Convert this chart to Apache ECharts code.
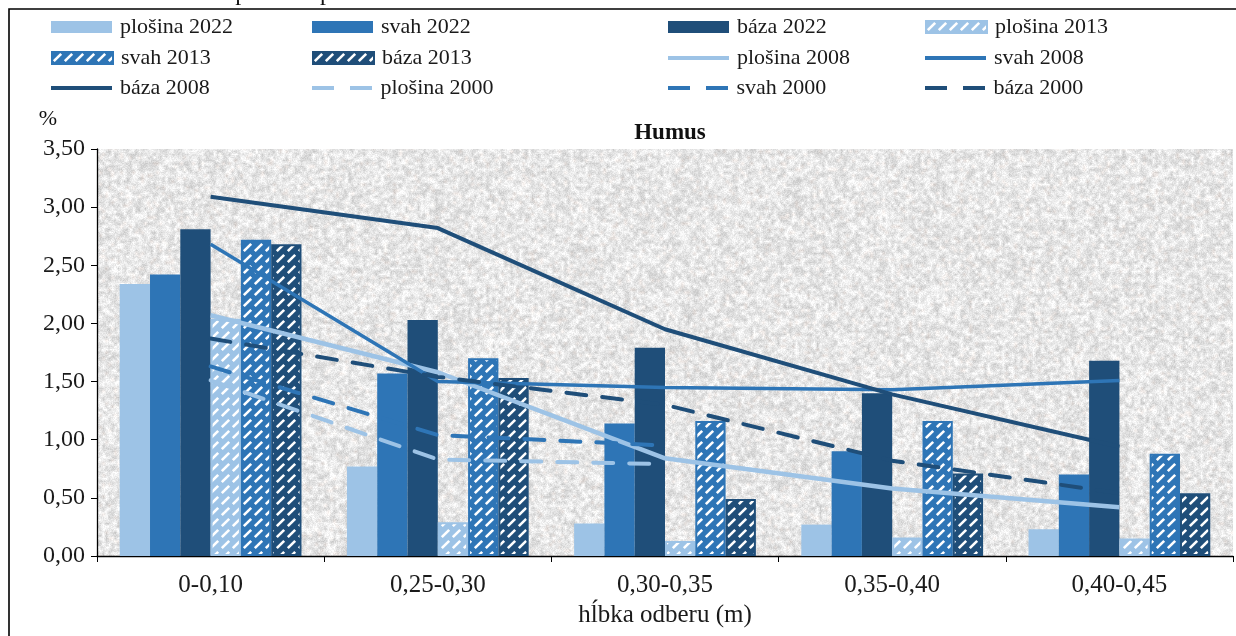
<!DOCTYPE html>
<html>
<head>
<meta charset="utf-8">
<script src="https://cdn.jsdelivr.net/npm/echarts@6/dist/echarts.min.js"></script>
<style>
  html, body { margin: 0; padding: 0; background: #fff; }
  #chart { width: 1236px; height: 636px; }
</style>
</head>
<body>
<div id="chart"></div>
<script>
// Humus content (%) by sampling depth — plateau (plošina), slope (svah), base (báza)
const categories = ['0-0,10', '0,25-0,30', '0,30-0,35', '0,35-0,40', '0,40-0,45'];
const yTicks = { min: 0, max: 3.5, interval: 0.5 };

const plosina2022 = [2.34, 0.77, 0.28, 0.27, 0.23];
const svah2022    = [2.42, 1.57, 1.14, 0.90, 0.70];
const baza2022    = [2.81, 2.03, 1.79, 1.40, 1.68];
const plosina2013 = [2.04, 0.29, 0.13, 0.16, 0.15];
const svah2013    = [2.72, 1.70, 1.16, 1.16, 0.88];
const baza2013    = [2.68, 1.53, 0.49, 0.71, 0.54];
const plosina2008 = [2.07, 1.58, 0.84, 0.58, 0.42];
const svah2008    = [2.68, 1.50, 1.45, 1.43, 1.51];
const baza2008    = [3.09, 2.82, 1.95, 1.39, 0.94];
const plosina2000 = [1.51, 0.83, 0.79, null, null];
const svah2000    = [1.63, 1.04, 0.95, null, null];
const baza2000    = [1.87, 1.54, 1.30, 0.82, 0.54];

const C_PLOSINA = '#9dc3e6';
const C_SVAH = '#2e75b6';
const C_BAZA = '#1f4e79';
const FONT = '"Liberation Serif", "Times New Roman", serif';

// deterministic pseudo-random generator for the granite texture
function lcg(seed) {
  let s = seed >>> 0;
  return function () {
    s = (s * 1664525 + 1013904223) >>> 0;
    return s / 4294967296;
  };
}

// Granite-like plot background
function makeGranite(w, h) {
  const rnd = lcg(12345);
  const small = document.createElement('canvas');
  const sw = Math.ceil(w / 3), sh = Math.ceil(h / 3);
  small.width = sw; small.height = sh;
  const sctx = small.getContext('2d');
  const img = sctx.createImageData(sw, sh);
  for (let i = 0; i < sw * sh; i++) {
    const v = 208 + rnd() * 46;
    const warm = rnd() < 0.08 ? 6 : 0;
    img.data[i * 4] = v + warm;
    img.data[i * 4 + 1] = v;
    img.data[i * 4 + 2] = v - warm * 0.5;
    img.data[i * 4 + 3] = 255;
  }
  sctx.putImageData(img, 0, 0);
  const c = document.createElement('canvas');
  c.width = w; c.height = h;
  const ctx = c.getContext('2d');
  ctx.imageSmoothingEnabled = true;
  ctx.drawImage(small, 0, 0, w, h);
  const fine = ctx.getImageData(0, 0, w, h);
  for (let i = 0; i < w * h; i++) {
    const d = (rnd() - 0.5) * 24;
    fine.data[i * 4] += d;
    fine.data[i * 4 + 1] += d;
    fine.data[i * 4 + 2] += d;
  }
  ctx.putImageData(fine, 0, 0);
  return c;
}

// Diagonal hatch fill for the 2013 bars
function makeHatch(color) {
  const n = 11;
  const c = document.createElement('canvas');
  c.width = n; c.height = n;
  const ctx = c.getContext('2d');
  ctx.fillStyle = color;
  ctx.fillRect(0, 0, n, n);
  ctx.strokeStyle = '#ffffff';
  ctx.lineWidth = 2.6;
  ctx.lineCap = 'butt';
  ctx.beginPath();
  ctx.moveTo(1.8, n - 1.8);
  ctx.lineTo(n - 1.8, 1.8);
  ctx.stroke();
  return c;
}

const chart = echarts.init(document.getElementById('chart'), null, { renderer: 'canvas' });

function barSeries(name, data, color) {
  return {
    name, type: 'bar', data,
    barGap: 0, barCategoryGap: '20%',
    itemStyle: { color },
    z: 2
  };
}
function hatchSeries(name, data, color) {
  return {
    name, type: 'bar', data,
    barGap: 0, barCategoryGap: '20%',
    itemStyle: { color: { image: makeHatch(color), repeat: 'repeat' }, borderColor: color, borderWidth: 2 },
    z: 2
  };
}
function lineSeries(name, data, color, dashed, width) {
  return {
    name, type: 'line', data,
    symbol: 'none', connectNulls: false,
    lineStyle: dashed
      ? { color, width: 4, type: [20, 16], cap: 'round' }
      : { color, width: width },
    itemStyle: { color },
    z: 5
  };
}

// legend: four columns, three rows; each entry placed on its own
const LEG_COLS = [51, 312, 668, 925];
const LEG_ROWS = [26, 57, 87];
const DASH_ICON = 'path://M0,0h22v4h-22zM38,0h22v4h-22z';
const legendEntries = [
  // [name, col, row, kind]
  ['plošina 2022', 0, 0, 'bar'], ['svah 2022', 1, 0, 'bar'], ['báza 2022', 2, 0, 'bar'], ['plošina 2013', 3, 0, 'bar'],
  ['svah 2013', 0, 1, 'bar'], ['báza 2013', 1, 1, 'bar'], ['plošina 2008', 2, 1, 'line'], ['svah 2008', 3, 1, 'line'],
  ['báza 2008', 0, 2, 'line'], ['plošina 2000', 1, 2, 'dash'], ['svah 2000', 2, 2, 'dash'], ['báza 2000', 3, 2, 'dash']
];
const legends = legendEntries.map(([name, col, row, kind]) => {
  const h = kind === 'bar' ? 12 : 4;
  return {
    left: LEG_COLS[col] - 5, top: LEG_ROWS[row] - 15,
    itemWidth: 61, itemHeight: h,
    selectedMode: false,
    textStyle: { fontFamily: FONT, fontSize: 22, color: '#1a1a1a', padding: [0, 0, 0, 3] },
    data: [{ name, icon: kind === 'dash' ? DASH_ICON : 'rect' }]
  };
});

const option = {
  animation: false,
  backgroundColor: '#ffffff',
  textStyle: { fontFamily: FONT },
  title: {
    text: 'Humus', left: 665, top: 117, textAlign: 'center',
    textStyle: { fontFamily: FONT, fontSize: 23, fontWeight: 'bold', color: '#111' }
  },
  legend: legends,
  grid: {
    left: 97, right: 3, top: 149, bottom: 80,
    show: true, borderWidth: 0,
    backgroundColor: { image: makeGranite(1236, 636), repeat: 'repeat' }
  },
  xAxis: {
    type: 'category', data: categories, boundaryGap: true,
    name: 'hĺbka odberu (m)', nameLocation: 'middle', nameGap: 47,
    nameTextStyle: { fontFamily: FONT, fontSize: 25, color: '#1a1a1a' },
    axisLine: { lineStyle: { color: '#000', width: 1.3 } },
    axisTick: { show: true, length: 6, lineStyle: { color: '#000' } },
    axisLabel: { fontFamily: FONT, fontSize: 25, color: '#1a1a1a', margin: 17 }
  },
  yAxis: {
    type: 'value', min: yTicks.min, max: yTicks.max, interval: yTicks.interval,
    axisLine: { show: true, lineStyle: { color: '#000', width: 1.3 } },
    axisTick: { show: true, length: 6, lineStyle: { color: '#000' } },
    splitLine: { show: false },
    axisLabel: {
      fontFamily: FONT, fontSize: 24, color: '#1a1a1a', margin: 12,
      formatter: v => v.toFixed(2).replace('.', ',')
    }
  },
  graphic: [
    { type: 'rect', shape: { x: 9, y: 9, width: 1300, height: 700 }, style: { fill: 'none', stroke: '#000', lineWidth: 1.6 }, silent: true },
    { type: 'text', x: 48, y: 119, style: { text: '%', font: '22px ' + FONT, fill: '#111', align: 'center', verticalAlign: 'middle' } },
    { type: 'text', x: 0, y: 6, style: { text: 'Graf 4 Obsah humusu v pôdnom profile', font: '24px ' + FONT, fill: '#111', align: 'left', verticalAlign: 'bottom' } }
  ],
  series: [
    barSeries('plošina 2022', plosina2022, C_PLOSINA),
    barSeries('svah 2022', svah2022, C_SVAH),
    barSeries('báza 2022', baza2022, C_BAZA),
    hatchSeries('plošina 2013', plosina2013, C_PLOSINA),
    hatchSeries('svah 2013', svah2013, C_SVAH),
    hatchSeries('báza 2013', baza2013, C_BAZA),
    lineSeries('plošina 2008', plosina2008, C_PLOSINA, false, 4.5),
    lineSeries('svah 2008', svah2008, C_SVAH, false, 3.5),
    lineSeries('báza 2008', baza2008, C_BAZA, false, 4),
    lineSeries('plošina 2000', plosina2000, C_PLOSINA, true),
    lineSeries('svah 2000', svah2000, C_SVAH, true),
    lineSeries('báza 2000', baza2000, C_BAZA, true)
  ]
};

chart.setOption(option);
</script>
</body>
</html>
